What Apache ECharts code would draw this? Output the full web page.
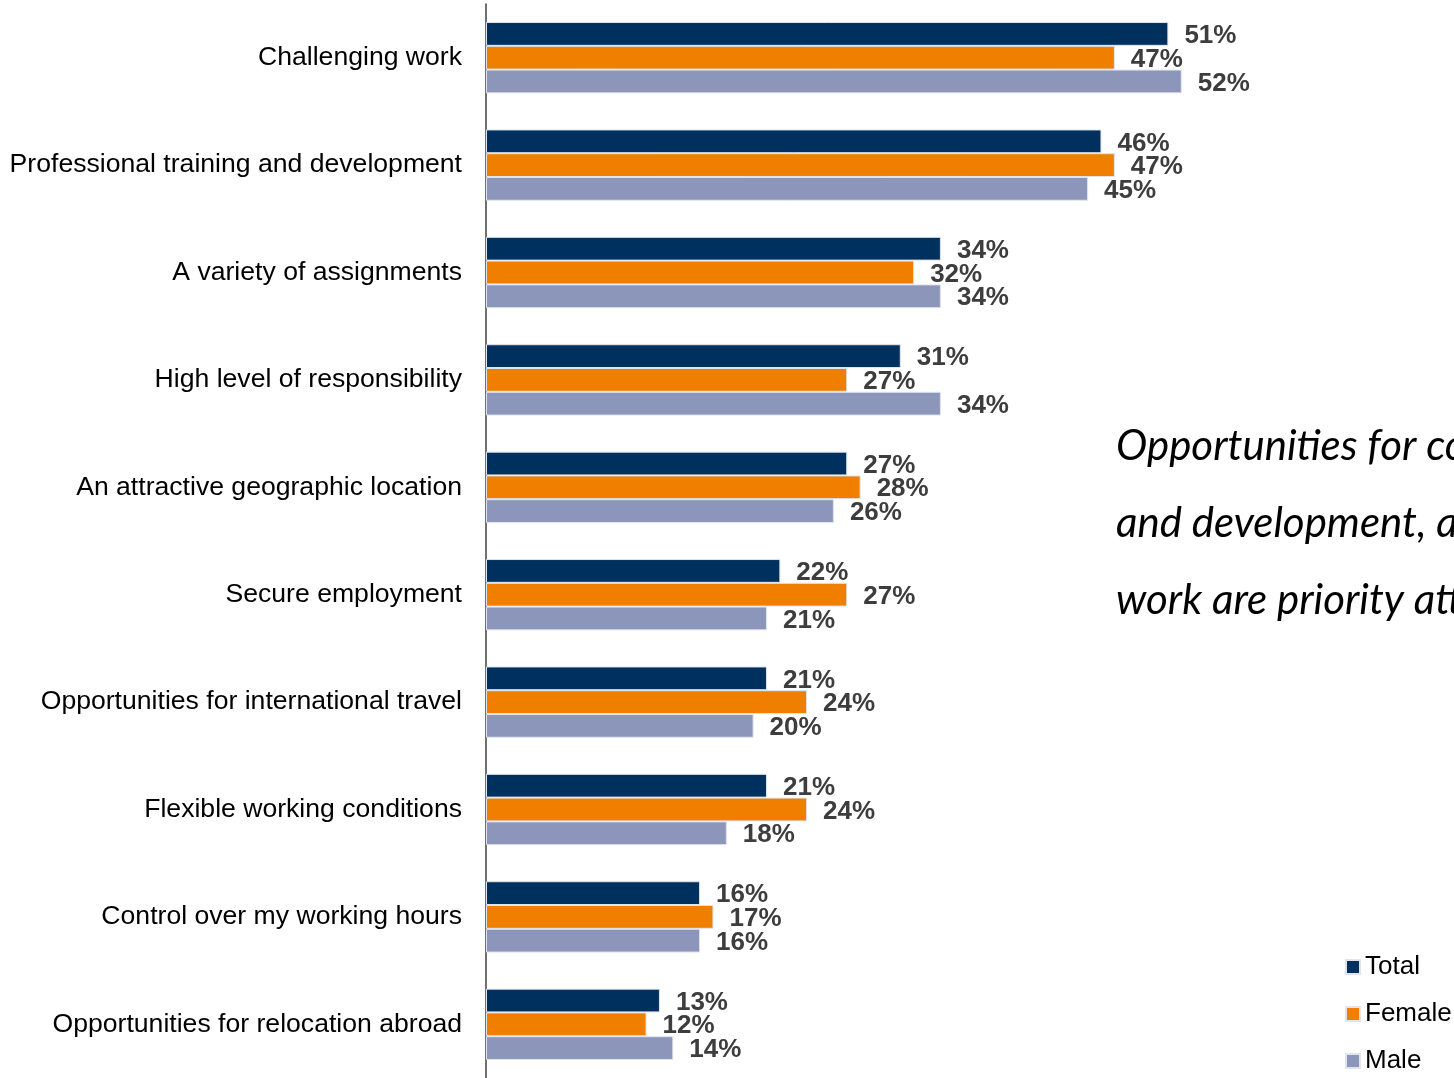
<!DOCTYPE html>
<html>
<head>
<meta charset="utf-8">
<script src="https://cdn.jsdelivr.net/npm/echarts@6/dist/echarts.min.js"></script>
<style>
  html, body { margin: 0; padding: 0; background: #ffffff; }
  #chart { width: 1454px; height: 1078px; }
</style>
</head>
<body>
<div id="chart"></div>
<script>
// Attributes employers should offer, share of respondents (%)
const categories = [
  'Challenging work',
  'Professional training and development',
  'A variety of assignments',
  'High level of responsibility',
  'An attractive geographic location',
  'Secure employment',
  'Opportunities for international travel',
  'Flexible working conditions',
  'Control over my working hours',
  'Opportunities for relocation abroad'
];
const totalValues  = [51, 46, 34, 31, 27, 22, 21, 21, 16, 13];
const femaleValues = [47, 47, 32, 27, 28, 27, 24, 24, 17, 12];
const maleValues   = [52, 45, 34, 34, 26, 21, 20, 18, 16, 14];
const seriesNames  = ['Total', 'Female', 'Male'];

const calloutLines = [
  'Opportunities for continuous training',
  'and development, and challenging',
  'work are priority attributes'
];

const colors = ['#00305e', '#f07f00', '#8b96ba'];
const FONT = '"Liberation Sans", Arial, sans-serif';

const chart = echarts.init(document.getElementById('chart'), null, { renderer: 'canvas' });

function barSeries(name, data, color) {
  return {
    name: name,
    type: 'bar',
    data: data,
    barGap: '0%',
    barCategoryGap: '33.6%',
    itemStyle: { color: color, borderColor: '#dfe4ee', borderWidth: 1 },
    label: {
      show: true,
      position: 'right',
      distance: 16,
      offset: [0, 2],
      formatter: '{c}%',
      fontFamily: FONT,
      fontWeight: 'bold',
      fontSize: 26,
      color: '#3d3d3d'
    },
    emphasis: { disabled: true },
    animation: false
  };
}

chart.setOption({
  backgroundColor: '#ffffff',
  animation: false,
  grid: { left: 486, top: 4, width: 936.6, height: 1076, containLabel: false },
  xAxis: {
    type: 'value',
    min: 0,
    max: 70,
    show: false
  },
  yAxis: {
    type: 'category',
    inverse: true,
    data: categories,
    axisLine: { show: true, lineStyle: { color: '#404040', width: 1.5 } },
    axisTick: { show: false },
    axisLabel: {
      margin: 24,
      fontFamily: FONT,
      fontSize: 26.6,
      color: '#000000',
      padding: [8, 0, 0, 0]
    }
  },
  legend: {
    orient: 'vertical',
    left: 1345,
    top: 954,
    height: 124,
    padding: 0,
    itemWidth: 14,
    itemHeight: 14,
    itemGap: 21,
    icon: 'rect',
    data: seriesNames,
    textStyle: {
      fontFamily: FONT,
      fontSize: 26,
      color: '#000000',
      lineHeight: 24
    }
  },
  graphic: calloutLines.map(function (line, i) {
    return {
      type: 'text',
      x: 1116,
      y: 446 + i * 77,
      style: {
        text: line,
        font: 'italic 42px Lato, "Open Sans", sans-serif',
        fill: '#000000',
        textVerticalAlign: 'middle'
      }
    };
  }),
  series: [
    barSeries(seriesNames[0], totalValues, colors[0]),
    barSeries(seriesNames[1], femaleValues, colors[1]),
    barSeries(seriesNames[2], maleValues, colors[2])
  ]
});
</script>
</body>
</html>
